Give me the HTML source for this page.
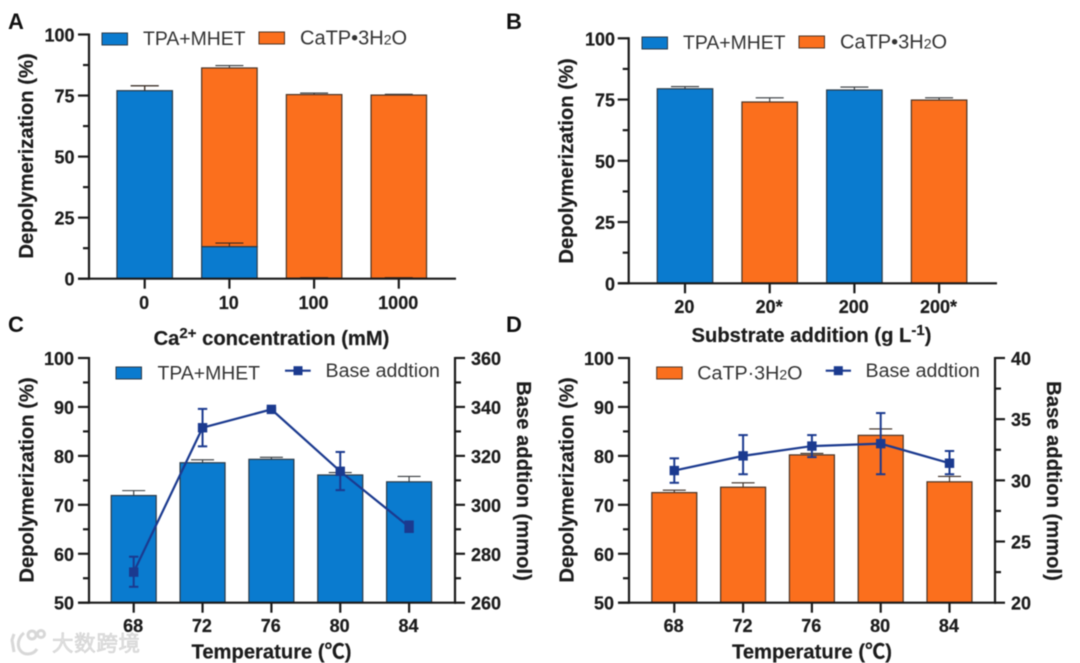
<!DOCTYPE html>
<html lang="en">
<head>
<meta charset="utf-8">
<title>Depolymerization charts</title>
<style>
html,body{margin:0;padding:0;background:#fff;width:1080px;height:663px;overflow:hidden}
svg{display:block;filter:blur(0.45px);font-family:"Liberation Sans","Noto Sans CJK SC",sans-serif}
.tick{font-weight:700;font-size:18px;fill:#1c1c1c;stroke:#1c1c1c;stroke-width:.2px}
.title{font-weight:700;font-size:20.2px;fill:#1c1c1c;stroke:#1c1c1c;stroke-width:.2px}
.legend{font-size:19.4px;fill:#333}
.letter{font-weight:700;font-size:22px;fill:#111}
</style>
</head>
<body>
<svg id="figure" xmlns="http://www.w3.org/2000/svg" width="1080" height="663" viewBox="0 0 1080 663">
  <rect width="1080" height="663" fill="#fff"/>
  <g id="panels"></g>

  <text class="letter" x="8" y="29">A</text>
  <text class="letter" x="506" y="29">B</text>
  <text class="letter" x="8" y="332">C</text>
  <text class="letter" x="506" y="332">D</text>

  <text class="title" transform="translate(33,156) rotate(-90)" text-anchor="middle">Depolymerization (%)</text>
  <text class="title" transform="translate(573,161) rotate(-90)" text-anchor="middle">Depolymerization (%)</text>
  <text class="title" transform="translate(33.3,480) rotate(-90)" text-anchor="middle">Depolymerization (%)</text>
  <text class="title" transform="translate(573.3,480) rotate(-90)" text-anchor="middle">Depolymerization (%)</text>

  <text class="title" transform="translate(517,481) rotate(90)" text-anchor="middle">Base addtion (mmol)</text>
  <text class="title" transform="translate(1047,481) rotate(90)" text-anchor="middle">Base addtion (mmol)</text>

  <text class="title" x="271.5" y="345" text-anchor="middle">Ca<tspan font-size="15" dy="-7">2+</tspan><tspan dy="7"> concentration (mM)</tspan></text>
  <text class="title" x="811.5" y="342" text-anchor="middle">Substrate addition (g L<tspan font-size="15" dy="-7">-1</tspan><tspan dy="7">)</tspan></text>
  <text class="title" x="271.5" y="658.5" text-anchor="middle">Temperature (℃)</text>
  <text class="title" x="812" y="658.5" text-anchor="middle">Temperature (℃)</text>

  <g>
    <rect x="102" y="33" width="25.5" height="12" fill="#0a7bcf" stroke="#2b3a48" stroke-width="1"/>
    <text class="legend" x="143" y="45">TPA+MHET</text>
    <rect x="259" y="32" width="25.5" height="12" fill="#fb6f1d" stroke="#4a3426" stroke-width="1"/>
    <text class="legend" style="font-size:20px" x="300" y="44.5">CaTP•3H<tspan font-size="14">2</tspan>O</text>
  </g>
  <g>
    <rect x="642" y="37" width="25.5" height="12" fill="#0a7bcf" stroke="#2b3a48" stroke-width="1"/>
    <text class="legend" x="683" y="49">TPA+MHET</text>
    <rect x="799" y="36" width="25.5" height="12" fill="#fb6f1d" stroke="#4a3426" stroke-width="1"/>
    <text class="legend" style="font-size:20px" x="840" y="48.5">CaTP•3H<tspan font-size="14">2</tspan>O</text>
  </g>
  <g>
    <rect x="116" y="367" width="25.5" height="12" fill="#0a7bcf" stroke="#2b3a48" stroke-width="1"/>
    <text class="legend" x="157.5" y="379.3">TPA+MHET</text>
    <line x1="285" x2="310.7" y1="370.7" y2="370.7" stroke="#1b3a8f" stroke-width="2.2"/>
    <rect x="293.5" y="366.2" width="9" height="9" fill="#1b3a8f"/>
    <text class="legend" style="font-size:19.6px" x="325.5" y="376.8">Base addtion</text>
  </g>
  <g>
    <rect x="656.7" y="367" width="25.5" height="12" fill="#fb6f1d" stroke="#4a3426" stroke-width="1"/>
    <text class="legend" style="font-size:19.7px" x="697.3" y="379.3">CaTP·3H<tspan font-size="14">2</tspan>O</text>
    <line x1="825.7" x2="851" y1="370.7" y2="370.7" stroke="#1b3a8f" stroke-width="2.2"/>
    <rect x="833.8" y="366.2" width="9" height="9" fill="#1b3a8f"/>
    <text class="legend" style="font-size:19.6px" x="865.5" y="376.8">Base addtion</text>
  </g>

  <g>
    <g fill="none" stroke="#d8d8d8" stroke-width="3">
      <path d="M14 634 L12 640 L14 652"/>
      <path d="M24 633 C15 640 17 654 28 654 C32 654 35 652 37 649"/>
      <circle cx="32" cy="635" r="4"/>
      <circle cx="41" cy="634" r="3.5"/>
    </g>
    <text x="52" y="651" font-size="21.5" fill="#e2e2e2" stroke="#cfcfcf" stroke-width="0.6" textLength="88">大数跨境</text>
  </g>
</svg>
<script>
// Panel A values
const aCategories = ['0', '10', '100', '1000'];
const aTpa = [77, 13.1, 0.2, 0.2];
const aTpaErrTop = [79, 14.6, 0.4, 0.4];
const aTotal = [77, 86.3, 75.4, 75.2];
const aTotalErrTop = [79, 87.3, 76, 75.5];
const aTicks = [0, 25, 50, 75, 100];

// Panel B values
const bCategories = ['20', '20*', '200', '200*'];
const bValues = [79.4, 74, 78.9, 74.8];
const bErrTop = [80.3, 75.7, 80.1, 75.7];
const bSeriesKind = ['tpa', 'catp', 'tpa', 'catp'];
const bTicks = [0, 25, 50, 75, 100];

// Panel C values
const cCategories = ['68', '72', '76', '80', '84'];
const cBars = [71.9, 78.6, 79.3, 76.1, 74.7];
const cBarErrTop = [72.9, 79.2, 79.7, 76.6, 75.8];
const cBase = [272.5, 331.5, 339, 313.7, 291];
const cBaseErrTop = [278.8, 339.2, 339.5, 321.6, 293.2];
const cBaseErrBottom = [266.5, 323.9, 338.5, 306, 288.9];
const cLeftTicks = [50, 60, 70, 80, 90, 100];
const cRightTicks = [260, 280, 300, 320, 340, 360];

// Panel D values
const dCategories = ['68', '72', '76', '80', '84'];
const dBars = [72.5, 73.6, 80.2, 84.2, 74.7];
const dBarErrTop = [73, 74.5, 80.5, 85.5, 75.8];
const dBase = [30.8, 32, 32.8, 33, 31.4];
const dBaseErrTop = [31.8, 33.7, 33.7, 35.5, 32.4];
const dBaseErrBottom = [29.8, 30.5, 31.9, 30.5, 30.5];
const dLeftTicks = [50, 60, 70, 80, 90, 100];
const dRightTicks = [20, 25, 30, 35, 40];

const BLUE = '#0a7bcf';
const ORANGE = '#fb6f1d';
const NAVY = '#1b3a8f';
const INK = '#1a1a1a';
const NS = 'http://www.w3.org/2000/svg';
const root = document.getElementById('panels');

function mk(parent, tag, name, props) {
  const el = document.createElementNS(NS, tag);
  
  
  for (const k in props) el.setAttribute(k, props[k]);
  parent.appendChild(el);
  return el;
}
function linear(d0, d1, r0, r1) {
  return v => r0 + (v - d0) / (d1 - d0) * (r1 - r0);
}
function axisLine(g, name, x1, y1, x2, y2, w) {
  mk(g, 'line', name, {x1, y1, x2, y2, stroke: INK, 'stroke-width': w || 2.2});
}
function label(g, name, x, y, anchor, str) {
  const t = mk(g, 'text', name, {x, y, 'text-anchor': anchor, class: 'tick'});
  t.textContent = str;
}
function leftAxis(g, scale, ticks, ax, labelX) {
  axisLine(g, 'y-axis', ax, scale(ticks[0]) + 1, ax, scale(ticks[ticks.length - 1]) - 1);
  ticks.forEach((v, i) => {
    axisLine(g, 'y-tick', ax - 11, scale(v), ax, scale(v));
    label(g, 'y-tick-label', labelX, scale(v) + 7, 'end', String(v));
    if (i < ticks.length - 1) {
      const m = (v + ticks[i + 1]) / 2;
      axisLine(g, 'y-minor-tick', ax - 6, scale(m), ax, scale(m));
    }
  });
}
function rightAxis(g, scale, ticks, ax, labelX) {
  axisLine(g, 'right-axis', ax, scale(ticks[0]) + 1, ax, scale(ticks[ticks.length - 1]) - 1);
  ticks.forEach((v, i) => {
    axisLine(g, 'right-tick', ax, scale(v), ax + 10, scale(v));
    label(g, 'right-tick-label', labelX, scale(v) + 7, 'start', String(v));
    if (i < ticks.length - 1) {
      const m = (v + ticks[i + 1]) / 2;
      axisLine(g, 'right-minor-tick', ax, scale(m), ax + 6, scale(m));
    }
  });
}
function xAxis(g, cats, xPos, y0, x1, x2, labelY) {
  axisLine(g, 'x-axis', x1, y0, x2, y0);
  cats.forEach((c, i) => {
    axisLine(g, 'x-tick', xPos(i), y0, xPos(i), y0 + 10);
    label(g, 'x-tick-label', xPos(i) - 0.6, labelY, 'middle', c);
  });
}
function bar(g, name, cx, w, yTop, yBase, fill, stroke) {
  mk(g, 'rect', name, {x: cx - w / 2, y: yTop, width: w, height: yBase - yTop, fill, stroke, 'stroke-width': 1.2});
}
function errTop(g, name, cx, yTop, yBar, cap, color) {
  mk(g, 'line', name + '-stem', {x1: cx, x2: cx, y1: yTop, y2: yBar, stroke: color, 'stroke-width': 1.1});
  mk(g, 'line', name + '-cap', {x1: cx - cap, x2: cx + cap, y1: yTop, y2: yTop, stroke: color, 'stroke-width': 1.1});
}
function stepX(first, step) {
  return i => first + i * step;
}
function drawLine(g, xPos, scale, values, tops, bottoms) {
  const pts = values.map((v, i) => xPos(i) + ',' + scale(v)).join(' ');
  mk(g, 'polyline', 'base-addition-line', {points: pts, fill: 'none', stroke: NAVY, 'stroke-width': 2.2});
  values.forEach((v, i) => {
    const x = xPos(i);
    mk(g, 'line', 'base-error-bar', {x1: x, x2: x, y1: scale(tops[i]), y2: scale(bottoms[i]), stroke: NAVY, 'stroke-width': 2});
    mk(g, 'line', 'base-error-cap-top', {x1: x - 4.7, x2: x + 4.7, y1: scale(tops[i]), y2: scale(tops[i]), stroke: NAVY, 'stroke-width': 2});
    mk(g, 'line', 'base-error-cap-bottom', {x1: x - 4.7, x2: x + 4.7, y1: scale(bottoms[i]), y2: scale(bottoms[i]), stroke: NAVY, 'stroke-width': 2});
    mk(g, 'rect', 'base-point', {x: x - 4.7, y: scale(v) - 4.7, width: 9.4, height: 9.4, fill: NAVY});
  });
}

// ---- Panel A
(function () {
  const g = mk(root, 'g', 'chart-a', {});
  const y = linear(0, 100, 278.7, 34.5);
  const x = stepX(144.7, 84.7);
  const w = 55.5;
  aCategories.forEach((c, i) => {
    errTop(g, 'total-error-bar', x(i), y(aTotalErrTop[i]), y(aTotal[i]), 14, '#33383c');
    if (aTotal[i] > aTpa[i]) {
      bar(g, 'bar-catp', x(i), w, y(aTotal[i]), y(aTpa[i]), ORANGE, '#4a3426');
    }
    if (aTpa[i] > 1) {
      bar(g, 'bar-tpa', x(i), w, y(aTpa[i]), y(0), BLUE, '#2b3a48');
    }
    errTop(g, 'tpa-error-bar', x(i), y(aTpaErrTop[i]), y(aTpa[i]), 14, '#3a2a20');
  });
  leftAxis(g, y, aTicks, 89, 74.5);
  xAxis(g, aCategories, x, y(0), 78, 456, 309);
})();

// ---- Panel B
(function () {
  const g = mk(root, 'g', 'chart-b', {});
  const y = linear(0, 100, 283.3, 38.3);
  const x = stepX(685, 84.7);
  const w = 55.5;
  bCategories.forEach((c, i) => {
    const isTpa = bSeriesKind[i] === 'tpa';
    errTop(g, 'error-bar', x(i), y(bErrTop[i]), y(bValues[i]), 14, '#33383c');
    bar(g, isTpa ? 'bar-tpa' : 'bar-catp', x(i), w, y(bValues[i]), y(0), isTpa ? BLUE : ORANGE, isTpa ? '#2b3a48' : '#4a3426');
  });
  leftAxis(g, y, bTicks, 628.7, 615);
  xAxis(g, bCategories, x, y(0), 618, 997, 313);
})();

// ---- Panel C
(function () {
  const g = mk(root, 'g', 'chart-c', {});
  const y = linear(50, 100, 602.7, 358);
  const yR = linear(260, 360, 602.7, 358);
  const x = stepX(133.7, 68.85);
  const w = 45;
  cCategories.forEach((c, i) => {
    errTop(g, 'error-bar', x(i), y(cBarErrTop[i]), y(cBars[i]), 11.5, '#33383c');
    bar(g, 'bar-tpa', x(i), w, y(cBars[i]), y(50), BLUE, '#2b3a48');
  });
  leftAxis(g, y, cLeftTicks, 89, 74);
  rightAxis(g, yR, cRightTicks, 455, 471);
  xAxis(g, cCategories, x, y(50), 78, 456, 632);
  drawLine(g, x, yR, cBase, cBaseErrTop, cBaseErrBottom);
})();

// ---- Panel D
(function () {
  const g = mk(root, 'g', 'chart-d', {});
  const y = linear(50, 100, 602.7, 358);
  const yR = linear(20, 40, 602.7, 358);
  const x = stepX(674.3, 68.8);
  const w = 45;
  dCategories.forEach((c, i) => {
    errTop(g, 'error-bar', x(i), y(dBarErrTop[i]), y(dBars[i]), 11.5, '#3a2a20');
    bar(g, 'bar-catp', x(i), w, y(dBars[i]), y(50), ORANGE, '#4a3426');
  });
  leftAxis(g, y, dLeftTicks, 629, 614);
  rightAxis(g, yR, dRightTicks, 995, 1011);
  xAxis(g, dCategories, x, y(50), 618, 996, 632);
  drawLine(g, x, yR, dBase, dBaseErrTop, dBaseErrBottom);
})();
</script>
</body>
</html>
